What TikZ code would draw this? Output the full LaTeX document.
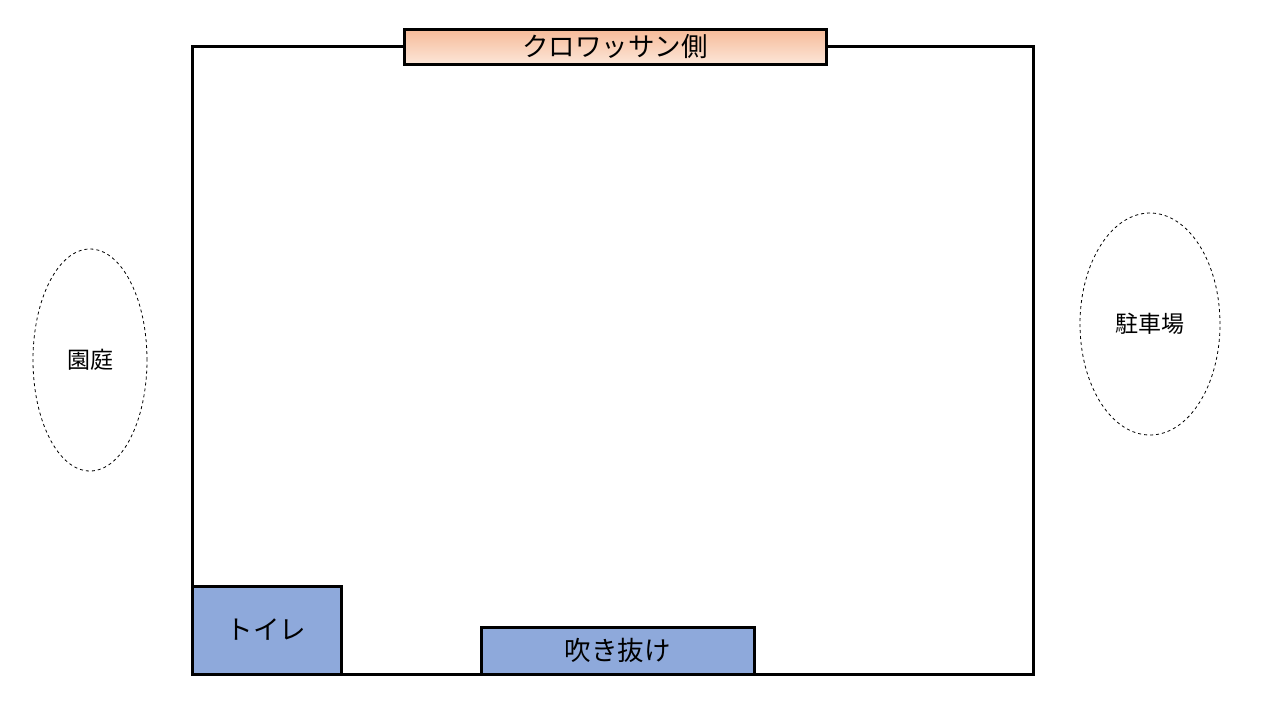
\documentclass[tikz,border=0pt]{standalone}
\usepackage{fontspec}
\setmainfont{Noto Sans CJK JP}
\usetikzlibrary{shapes.geometric}
\definecolor{roomblue}{RGB}{142,169,219}
\definecolor{peachtop}{RGB}{246,186,152}
\definecolor{peachbot}{RGB}{252,230,216}
\tikzset{
  wall/.style={draw=black,line width=3pt},
  roombox/.style={draw=black,line width=3pt,fill=roomblue},
  zone/.style={draw=black,dashed,line width=0.8pt,ellipse},
  bigtext/.style={font=\fontsize{26.5}{28}\selectfont},
  smalltext/.style={font=\fontsize{23}{25}\selectfont}
}
\begin{document}
\begin{tikzpicture}[x=1pt,y=-1pt]
\useasboundingbox (0,0) rectangle (1280,720);
\fill[white] (0,0) rectangle (1280,720);
\coordinate (r1) at (192,46);
\coordinate (r2) at (1033,674);
\draw[wall] (r1) rectangle (r2);
\node[wall,top color=peachtop,bottom color=peachbot,minimum width=422pt,minimum height=35pt,inner sep=0pt,bigtext] (banner) at (615,46.5) {クロワッサン側};
\node[roombox,minimum width=149pt,minimum height=88pt,inner sep=0pt,bigtext] (toilet) at (266.5,630) {トイレ};
\node[roombox,minimum width=273pt,minimum height=47pt,inner sep=0pt,bigtext] (void) at (617.5,650.5) {吹き抜け};
\node[zone,minimum width=114pt,minimum height=222pt,inner sep=0pt,smalltext] (garden) at (90,360) {園庭};
\node[zone,minimum width=140pt,minimum height=222pt,inner sep=0pt,smalltext] (parking) at (1150,324) {駐車場};
\end{tikzpicture}
\end{document}
